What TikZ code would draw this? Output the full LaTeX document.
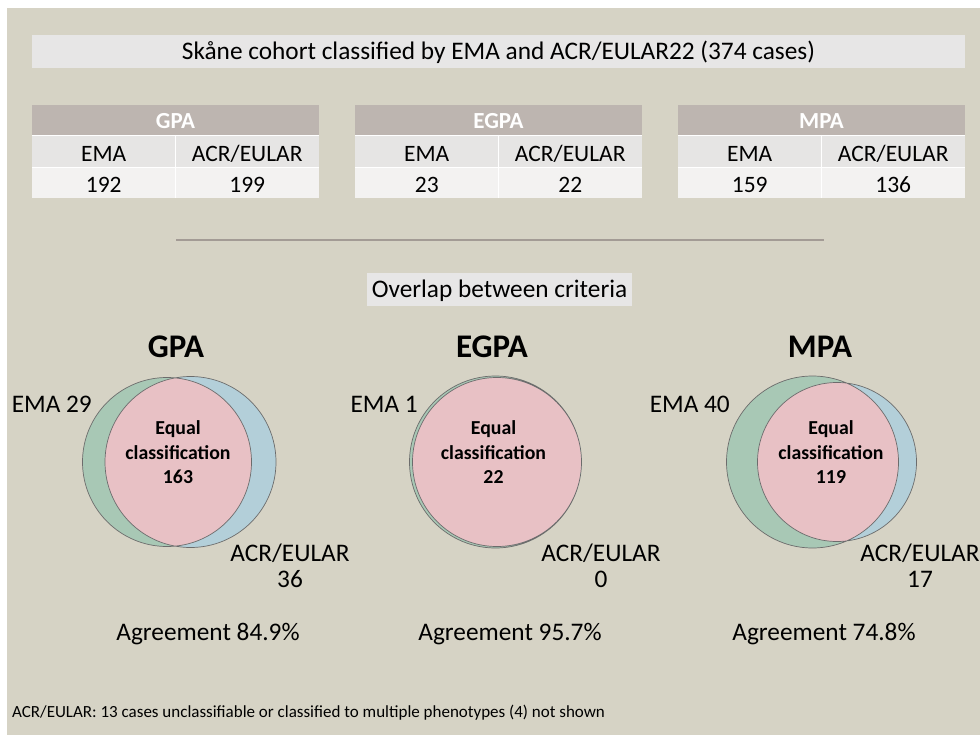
\documentclass[tikz,border=0pt]{standalone}
\usepackage{fontspec}
\setmainfont{Carlito}
\usetikzlibrary{positioning}
\definecolor{bg}{HTML}{D6D3C5}
\definecolor{boxgray}{HTML}{E7E6E6}
\definecolor{headgray}{HTML}{BDB5B0}
\definecolor{rowa}{HTML}{E6E5E4}
\definecolor{rowb}{HTML}{F3F2F1}
\definecolor{emagreen}{HTML}{A8C8B5}
\definecolor{acrblue}{HTML}{B3CFD9}
\definecolor{eqpink}{HTML}{E8C1C5}
\definecolor{rulegray}{HTML}{A39B95}
\begin{document}
\begin{tikzpicture}[x=1pt,y=-1pt,
  every node/.style={inner sep=0pt},
  lbl/.style={font=\fontsize{25.3}{26}\selectfont},
  celltext/.style={font=\fontsize{23.5}{26}\selectfont, anchor=base},
  headtext/.style={font=\bfseries\fontsize{23}{26}\selectfont, text=white, anchor=base},
  vtitle/.style={font=\bfseries\fontsize{33}{36}\selectfont, anchor=base},
  eqtext/.style={font=\bfseries\fontsize{19.8}{24.5}\selectfont, align=center},
  venn line/.style={draw=gray!85!black, line width=0.7pt}]
\useasboundingbox (0,0) rectangle (980,735);
\fill[white] (0,0) rectangle (980,735);
\fill[bg] (7,8) rectangle (980,735);
% title bar
\fill[boxgray] (32,35) rectangle (965,68);
\node[lbl, anchor=base] (title) at (498.5,60) {Skåne cohort classified by EMA and ACR/EULAR22 (374 cases)};
% count tables
\foreach \tname/\tx/\ema/\acr in {GPA/32/192/199, EGPA/355/23/22, MPA/678/159/136}{
  \fill[headgray] (\tx,105) rectangle ++(287,30);
  \fill[rowa] (\tx,135) rectangle ++(287,32);
  \fill[rowb] (\tx,167) rectangle ++(287,31);
  \draw[white, line width=0.8pt] ({\tx+143.5},135) -- ++(0,63);
  \draw[white, line width=0.8pt] (\tx,135) -- ++(287,0) (\tx,167) -- ++(287,0);
  \node[headtext] (\tname-head) at ({\tx+143.5},129) {\tname};
  \node[celltext] (\tname-ema) at ({\tx+71.75},161.5) {EMA};
  \node[celltext] (\tname-acr) at ({\tx+215.25},161.5) {ACR/EULAR};
  \node[celltext] (\tname-emanum) at ({\tx+71.75},192.5) {\ema};
  \node[celltext] (\tname-acrnum) at ({\tx+215.25},192.5) {\acr};
}
% separator
\coordinate (rule-l) at (176,240);
\coordinate (rule-r) at (824,240);
\draw[rulegray, line width=2pt] (rule-l) -- (rule-r);
\fill[boxgray] (367,273) rectangle (632,306);
\node[lbl, anchor=base] (overlap) at (499.5,298) {Overlap between criteria};
% venn diagrams: EMA circle, ACR/EULAR circle, overlap
\foreach \ex/\er/\ax/\ar in {167/84.5/190.5/85.5, 495.5/86/497/84.5, 812.5/86/837/79.5}{
  \fill[emagreen] (\ex,462) circle (\er pt);
  \fill[acrblue] (\ax,462) circle (\ar pt);
  \begin{scope}
    \clip (\ex,462) circle (\er pt);
    \fill[eqpink] (\ax,462) circle (\ar pt);
  \end{scope}
  \draw[venn line] (\ex,462) circle (\er pt) (\ax,462) circle (\ar pt);
}
\node[vtitle] (gpa-title) at (176,357) {GPA};
\node[vtitle] (egpa-title) at (492,357) {EGPA};
\node[vtitle] (mpa-title) at (820,357) {MPA};
\node[lbl, anchor=base east] (gpa-ema) at (92,412) {EMA 29};
\node[lbl, anchor=base east] (egpa-ema) at (418,412) {EMA 1};
\node[lbl, anchor=base east] (mpa-ema) at (730,412) {EMA 40};
\node[eqtext] (gpa-eq) at (178,452.5) {Equal\\classification\\163};
\node[eqtext] (egpa-eq) at (493.5,452.5) {Equal\\classification\\22};
\node[eqtext] (mpa-eq) at (831,452.5) {Equal\\classification\\119};
\node[lbl, align=center] (gpa-acr) at (290,565.5) {ACR/EULAR\\36};
\node[lbl, align=center] (egpa-acr) at (601,565.5) {ACR/EULAR\\0};
\node[lbl, align=center] (mpa-acr) at (920,565.5) {ACR/EULAR\\17};
\node[lbl, anchor=base] (gpa-agree) at (208,640) {Agreement 84.9\%};
\node[lbl, anchor=base] (egpa-agree) at (510,640) {Agreement 95.7\%};
\node[lbl, anchor=base] (mpa-agree) at (824,640) {Agreement 74.8\%};
\node[font=\fontsize{17}{19}\selectfont, anchor=base west] (note) at (12,717) {ACR/EULAR: 13 cases unclassifiable or classified to multiple phenotypes (4) not shown};
\end{tikzpicture}
\end{document}
